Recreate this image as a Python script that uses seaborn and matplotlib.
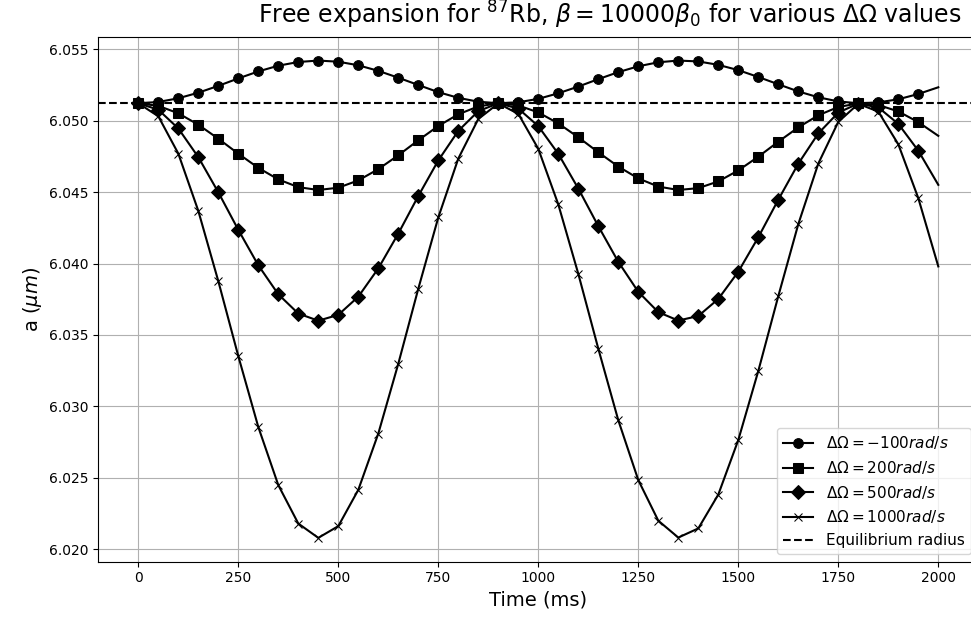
import matplotlib
matplotlib.use("Agg")
import matplotlib.pyplot as plt
import seaborn as sns

# Time axis (ms)
time_ms = list(range(0, 2001, 50))

# Equilibrium radius (um)
equilibrium = 6.05122

# Values (um)
dw_m100 = [6.05122, 6.05131, 6.05157, 6.05196, 6.05244, 6.05296, 6.05345, 6.05385,
           6.05411, 6.05421, 6.05413, 6.05388, 6.05349, 6.05301, 6.05250, 6.05200,
           6.05160, 6.05133, 6.05122, 6.05129, 6.05153, 6.05192, 6.05239, 6.05291,
           6.05340, 6.05381, 6.05409, 6.05421, 6.05415, 6.05391, 6.05354, 6.05306,
           6.05255, 6.05205, 6.05164, 6.05135, 6.05122, 6.05128, 6.05150, 6.05187,
           6.05234]
dw_200 = [6.05122, 6.05104, 6.05052, 6.04972, 6.04874, 6.04769, 6.04670, 6.04589,
          6.04535, 6.04515, 6.04531, 6.04582, 6.04661, 6.04758, 6.04863, 6.04963,
          6.05045, 6.05100, 6.05122, 6.05107, 6.05058, 6.04981, 6.04884, 6.04779,
          6.04679, 6.04596, 6.04539, 6.04515, 6.04528, 6.04575, 6.04652, 6.04748,
          6.04853, 6.04953, 6.05038, 6.05096, 6.05121, 6.05110, 6.05065, 6.04990,
          6.04894]
dw_500 = [6.05122, 6.05077, 6.04946, 6.04745, 6.04499, 6.04236, 6.03988, 6.03785,
          6.03650, 6.03600, 6.03641, 6.03768, 6.03966, 6.04210, 6.04473, 6.04722,
          6.04929, 6.05067, 6.05122, 6.05085, 6.04962, 6.04768, 6.04525, 6.04262,
          6.04012, 6.03802, 6.03660, 6.03601, 6.03633, 6.03752, 6.03943, 6.04184,
          6.04447, 6.04699, 6.04911, 6.05057, 6.05120, 6.05093, 6.04978, 6.04790,
          6.04551]
dw_1000 = [6.05122, 6.05031, 6.04770, 6.04369, 6.03877, 6.03352, 6.02856, 6.02449,
           6.02180, 6.02080, 6.02162, 6.02416, 6.02810, 6.03299, 6.03824, 6.04323,
           6.04735, 6.05012, 6.05121, 6.05048, 6.04803, 6.04414, 6.03928, 6.03404,
           6.02903, 6.02484, 6.02200, 6.02082, 6.02146, 6.02383, 6.02765, 6.03248,
           6.03772, 6.04276, 6.04700, 6.04992, 6.05118, 6.05064, 6.04835, 6.04458,
           6.03980]

series = [
    (dw_m100, "o", 7, r"$\Delta\Omega = -100 rad/s$"),
    (dw_200, "s", 7, r"$\Delta\Omega = 200 rad/s$"),
    (dw_500, "D", 7, r"$\Delta\Omega = 500 rad/s$"),
    (dw_1000, "x", 6, r"$\Delta\Omega = 1000 rad/s$"),
]

fig = plt.figure(figsize=(9.71, 6.21), dpi=100)
ax = fig.add_axes([0.10124, 0.09549, 0.90628, 0.84541])

n_marks = len(time_ms) - 1
for vals, mk, ms, lab in series:
    sns.lineplot(x=time_ms, y=vals, ax=ax, color="black", marker=mk,
                 markersize=ms, markevery=list(range(n_marks)), linewidth=1.5,
                 markeredgecolor="black", label=lab)

ax.axhline(equilibrium, color="black", linestyle="--", linewidth=1.5,
           label="Equilibrium radius")

ax.set_xticks([0, 250, 500, 750, 1000, 1250, 1500, 1750, 2000])
ax.grid(True, color="#b0b0b0", linewidth=0.8)
ax.set_axisbelow(True)
ax.tick_params(labelsize=10)
ax.set_xlabel("Time (ms)", fontsize=14)
ax.set_ylabel(r"a ($\mu m$)", fontsize=14)
fig.text(0.628, 0.962,
         r"Free expansion for $^{87}$Rb, $\beta = 10000\beta_0$ for various $\Delta\Omega$ values",
         fontsize=17, ha="center", va="baseline")
ax.legend(loc="lower right", fontsize=11)

fig.savefig("out.png", dpi=100)
